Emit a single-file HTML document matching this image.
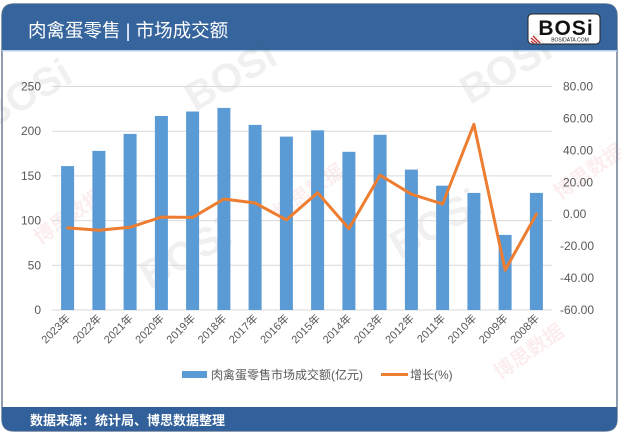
<!DOCTYPE html>
<html><head><meta charset="utf-8"><style>
html,body{margin:0;padding:0;background:#fff;}
svg{display:block;}
text{font-family:"Liberation Sans","Noto Sans CJK SC",sans-serif;}
</style></head><body>
<svg width="621" height="436" viewBox="0 0 621 436" xmlns="http://www.w3.org/2000/svg">
<rect x="0" y="0" width="621" height="436" fill="#ffffff"/>
<!-- card -->
<path d="M2,16 Q2,4 14,4 L605,4 Q617,4 617,16 L617,419 Q617,431 605,431 L14,431 Q2,431 2,419 Z" fill="#ffffff" stroke="#6d7f96" stroke-width="1.5"/>
<!-- header -->
<path d="M2,16 Q2,4 14,4 L605,4 Q617,4 617,16 L617,50 L2,50 Z" fill="#36659d"/>
<rect x="2" y="50" width="615" height="1.5" fill="#b9cfe6"/>
<!-- footer -->
<path d="M2,407 L617,407 L617,419 Q617,431 605,431 L14,431 Q2,431 2,419 Z" fill="#31609a"/>
<text x="28" y="37" font-size="18.5" fill="#ffffff">肉禽蛋零售 | 市场成交额</text>
<text x="30" y="425" font-size="13" font-weight="bold" fill="#ffffff">数据来源：统计局、博思数据整理</text>
<!-- logo -->
<rect x="528" y="14" width="72" height="30" rx="4" fill="#ffffff" stroke="#222" stroke-width="1"/>
<text x="566" y="35" font-size="21" font-weight="bold" fill="#111" text-anchor="middle" font-family="Liberation Sans" letter-spacing="1">BOSi</text>
<text x="570" y="41.5" font-size="5" fill="#111" text-anchor="middle">BOSIDATA.COM</text>
<path d="M531,38 L537,43 M531,41 L534,43.5 M533,36 L540,43" stroke="#c0282d" stroke-width="1.3"/>

<!-- watermarks -->
<g opacity="0.09" font-weight="bold" fill="#555">
<text x="0" y="0" font-size="40" transform="translate(195,112) rotate(-30)">BOSi</text>
<text x="0" y="0" font-size="40" transform="translate(470,105) rotate(-30)">BOSi</text>
<text x="0" y="0" font-size="40" transform="translate(150,290) rotate(-30)">BOSi</text>
<text x="0" y="0" font-size="40" transform="translate(400,260) rotate(-30)">BOSi</text>
<text x="0" y="0" font-size="40" transform="translate(-10,130) rotate(-30)">BOSi</text>
</g>
<g opacity="0.08" fill="#d03030" font-weight="bold">
<text x="0" y="0" font-size="20" transform="translate(40,245) rotate(-35)">博思数据</text>
<text x="0" y="0" font-size="20" transform="translate(280,220) rotate(-35)">博思数据</text>
<text x="0" y="0" font-size="20" transform="translate(500,380) rotate(-35)">博思数据</text>
<text x="0" y="0" font-size="20" transform="translate(560,200) rotate(-35)">博思数据</text>
</g>

<!-- gridlines -->
<g stroke="#d9d9d9" stroke-width="1">
<line x1="52" y1="86.5" x2="552" y2="86.5"/>
<line x1="52" y1="131.2" x2="552" y2="131.2"/>
<line x1="52" y1="175.9" x2="552" y2="175.9"/>
<line x1="52" y1="220.6" x2="552" y2="220.6"/>
<line x1="52" y1="265.3" x2="552" y2="265.3"/>
<line x1="52" y1="310" x2="552" y2="310"/>
</g>
<!-- bars -->
<g fill="#5b9bd5">
<rect x="61.1" y="166.1" width="13" height="143.9"/>
<rect x="92.4" y="150.9" width="13" height="159.1"/>
<rect x="123.6" y="133.9" width="13" height="176.1"/>
<rect x="154.9" y="116.0" width="13" height="194.0"/>
<rect x="186.1" y="111.5" width="13" height="198.5"/>
<rect x="217.4" y="107.9" width="13" height="202.1"/>
<rect x="248.6" y="124.9" width="13" height="185.1"/>
<rect x="279.9" y="136.6" width="13" height="173.4"/>
<rect x="311.1" y="130.3" width="13" height="179.7"/>
<rect x="342.4" y="151.8" width="13" height="158.2"/>
<rect x="373.6" y="134.8" width="13" height="175.2"/>
<rect x="404.9" y="169.6" width="13" height="140.4"/>
<rect x="436.1" y="185.7" width="13" height="124.3"/>
<rect x="467.4" y="192.9" width="13" height="117.1"/>
<rect x="498.6" y="234.9" width="13" height="75.1"/>
<rect x="529.9" y="192.9" width="13" height="117.1"/>
</g>
<!-- line -->
<polyline fill="none" stroke="#ed7d31" stroke-width="3" stroke-linejoin="round" stroke-linecap="round"
points="67.6,227.9 98.9,230.2 130.1,227.3 161.4,217.1 192.6,217.4 223.9,199.0 255.1,203.0 286.4,219.9 317.6,192.7 348.9,228.6 380.1,175.1 411.4,194.2 442.6,204.0 473.9,124.3 505.1,270.1 536.4,214.2"/>

<!-- left axis labels -->
<g font-size="12" fill="#595959" text-anchor="end">
<text x="41" y="90.5">250</text>
<text x="41" y="135.2">200</text>
<text x="41" y="179.9">150</text>
<text x="41" y="224.6">100</text>
<text x="41" y="269.3">50</text>
<text x="41" y="314">0</text>
</g>
<!-- right axis labels -->
<g font-size="12" fill="#595959">
<text x="563" y="90.5">80.00</text>
<text x="563" y="122.4">60.00</text>
<text x="563" y="154.3">40.00</text>
<text x="563" y="186.3">20.00</text>
<text x="563" y="218.2">0.00</text>
<text x="560" y="250.1">-20.00</text>
<text x="560" y="282.1">-40.00</text>
<text x="560" y="314">-60.00</text>
</g>
<!-- x labels -->
<g font-size="11" fill="#595959" text-anchor="end">
<text transform="translate(71,319) rotate(-45)">2023年</text>
<text transform="translate(102.3,319) rotate(-45)">2022年</text>
<text transform="translate(133.5,319) rotate(-45)">2021年</text>
<text transform="translate(164.8,319) rotate(-45)">2020年</text>
<text transform="translate(196,319) rotate(-45)">2019年</text>
<text transform="translate(227.3,319) rotate(-45)">2018年</text>
<text transform="translate(258.5,319) rotate(-45)">2017年</text>
<text transform="translate(289.8,319) rotate(-45)">2016年</text>
<text transform="translate(321,319) rotate(-45)">2015年</text>
<text transform="translate(352.3,319) rotate(-45)">2014年</text>
<text transform="translate(383.5,319) rotate(-45)">2013年</text>
<text transform="translate(414.8,319) rotate(-45)">2012年</text>
<text transform="translate(446,319) rotate(-45)">2011年</text>
<text transform="translate(477.3,319) rotate(-45)">2010年</text>
<text transform="translate(508.5,319) rotate(-45)">2009年</text>
<text transform="translate(539.8,319) rotate(-45)">2008年</text>
</g>
<!-- legend -->
<rect x="182" y="371" width="25" height="7" fill="#5b9bd5"/>
<text x="211" y="379" font-size="12" fill="#595959">肉禽蛋零售市场成交额(亿元)</text>
<line x1="381" y1="374.5" x2="408" y2="374.5" stroke="#ed7d31" stroke-width="3"/>
<text x="410" y="379" font-size="12" fill="#595959">增长(%)</text>
</svg>
</body></html>
